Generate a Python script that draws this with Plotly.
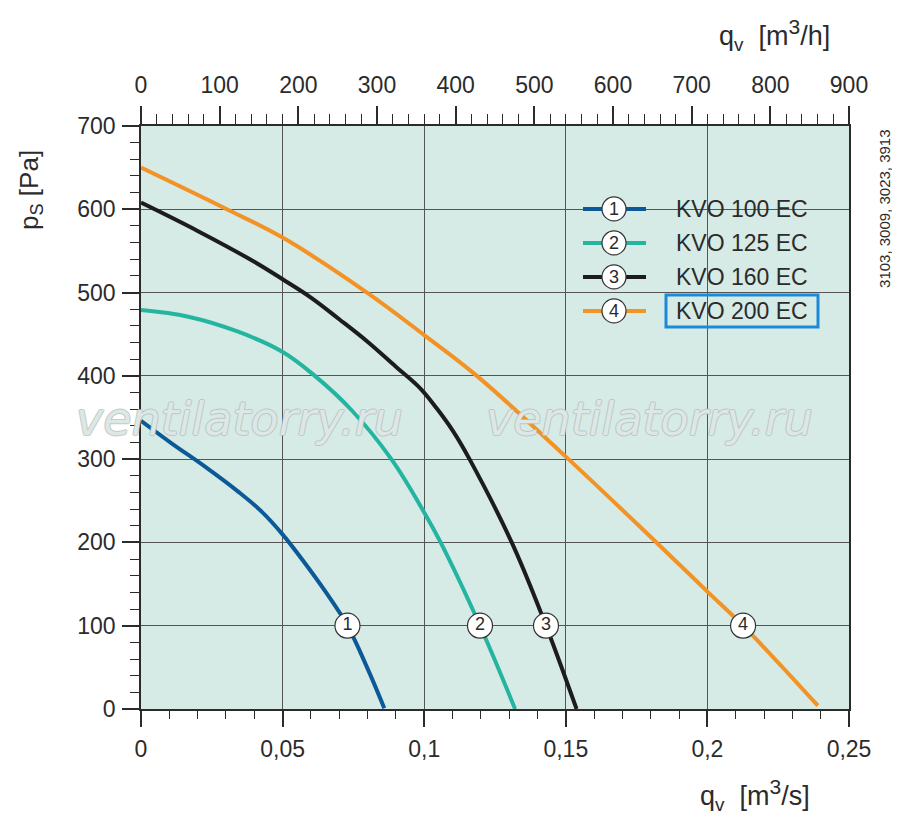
import plotly.graph_objects as go

# --- data ---
q_kvo100 = [0, 0.0108, 0.0226, 0.0343, 0.0426, 0.0499, 0.0579, 0.0649, 0.0729, 0.0802, 0.0859]
p_kvo100 = [346, 319, 291, 261, 237, 210, 175, 142, 100, 47, 1]

q_kvo125 = [0, 0.0167, 0.0343, 0.0499, 0.0614, 0.0743, 0.0884, 0.100, 0.1058, 0.1197, 0.1321]
p_kvo125 = [479, 471, 453, 429, 400, 359, 300, 236, 200, 100, 0]

q_kvo160 = [0, 0.020, 0.040, 0.050, 0.060, 0.070, 0.080, 0.090, 0.0986, 0.1044, 0.1103, 0.116, 0.1309, 0.1430, 0.1538]
p_kvo160 = [608, 574, 537, 516, 494, 468, 441, 411, 385, 361, 333, 300, 200, 100, 0]

q_kvo200 = [0, 0.0303, 0.050, 0.0798, 0.100, 0.1186, 0.150, 0.182, 0.200, 0.2126, 0.239]
p_kvo200 = [650, 600, 566, 500, 449, 400, 303, 200, 141, 100, 4]

curve_q = [q_kvo100, q_kvo125, q_kvo160, q_kvo200]
curve_p = [p_kvo100, p_kvo125, p_kvo160, p_kvo200]
names = ["KVO 100 EC", "KVO 125 EC", "KVO 160 EC", "KVO 200 EC"]
numbers = ["1", "2", "3", "4"]
colors = ["#0b5a97", "#24b5a0", "#1c1c1c", "#f39325"]

# numbered circles sitting on the curves
label_q = [0.0729, 0.1197, 0.1430, 0.2126]
label_p = [100, 100, 100, 100]

x_ticks = [0, 0.05, 0.1, 0.15, 0.2, 0.25]
x_ticktext = ["0", "0,05", "0,1", "0,15", "0,2", "0,25"]
y_ticks = [0, 100, 200, 300, 400, 500, 600, 700]
x2_ticks = [0, 100, 200, 300, 400, 500, 600, 700, 800, 900]

# --- page geometry (the page puts the figure 8px in from the corner) ---
OFF = 8
W, H = 900 - OFF, 828 - OFF
L, R, T, B = 141, 849, 126, 709.3          # plot box in screen pixels
ML, MT = L - OFF, T - OFF
MR, MB = W - (R - OFF), H - (B - OFF)
PW, PH = R - L, B - T

BG = "#d6eae6"
GRID = "#555555"
AXIS = "#2b2b2b"
TXT = "#2b2b2b"
FONT = "Liberation Sans, Arial, sans-serif"


def px(xp):
    return (xp - L) / PW


def py(yp):
    return (B - yp) / PH


def note(x, y, text, size, **kw):
    d = dict(x=px(x), y=py(y), xref="paper", yref="paper", text=text, showarrow=False,
             xanchor="center", yanchor="middle",
             font=dict(family=FONT, size=size, color=TXT))
    d.update(kw)
    return d


fig = go.Figure()

for q, p, c, n in zip(curve_q, curve_p, colors, names):
    fig.add_trace(go.Scatter(x=q, y=p, mode="lines", name=n,
                             line=dict(color=c, width=4, shape="spline", smoothing=1.1),
                             hoverinfo="skip"))

fig.add_trace(go.Scatter(x=label_q, y=label_p, mode="markers+text", text=numbers,
                         textposition="middle center",
                         textfont=dict(family=FONT, size=18, color=TXT),
                         marker=dict(size=25, color="white", line=dict(color="#333333", width=1.2)),
                         hoverinfo="skip"))

# keeps the top m3/h axis alive
fig.add_trace(go.Scatter(x=x2_ticks, y=[None] * len(x2_ticks), xaxis="x2",
                         mode="markers", hoverinfo="skip", showlegend=False))

shapes = []
annotations = []

# legend box (hides the grid behind it)
shapes.append(dict(type="rect", xref="paper", yref="paper", layer="between",
                   x0=px(563), x1=px(837), y0=py(340), y1=py(182),
                   fillcolor=BG, line=dict(width=0)))
row_y = [209, 243, 277, 311]
for i, (n, c, num) in enumerate(zip(names, colors, numbers)):
    yy = py(row_y[i])
    shapes.append(dict(type="line", xref="paper", yref="paper",
                       x0=px(583), x1=px(646), y0=yy, y1=yy,
                       line=dict(color=c, width=4)))
    shapes.append(dict(type="circle", xref="paper", yref="paper",
                       xsizemode="pixel", ysizemode="pixel",
                       xanchor=px(614), yanchor=yy, x0=-12, x1=12, y0=-12, y1=12,
                       fillcolor="white", line=dict(color="#333333", width=1.2)))
    annotations.append(note(614, row_y[i], num, 18))
    annotations.append(note(674, row_y[i], n, 23, xanchor="left"))
# highlight frame around the last entry
shapes.append(dict(type="rect", xref="paper", yref="paper",
                   x0=px(666), x1=px(818), y0=py(327), y1=py(295),
                   line=dict(color="#1d8ad8", width=3)))

# watermark
for cx in [239, 649]:
    annotations.append(note(cx, 419, "ventilatorry.ru", 46,
                            font=dict(family="DejaVu Sans", size=46, style="italic",
                                      color="rgba(236,245,243,0.75)",
                                      shadow="1px 0 #b2bebc, -1px 0 #b2bebc, 0 1px #b2bebc, 0 -1px #b2bebc")))

# axis titles
sup3 = "<sup><span style='font-size:21px'>3</span></sup>"
annotations.append(note(31, 190, "p<sub>S</sub> [Pa]", 26, textangle=-90))
annotations.append(note(755, 795, "q<sub>v</sub>  [m" + sup3 + "/s]", 27))
annotations.append(note(774, 35, "q<sub>v</sub>  [m" + sup3 + "/h]", 27))
annotations.append(note(885, 209, "3103, 3009, 3023, 3913", 15, textangle=-90))

tickfont = dict(family=FONT, size=23, color=TXT)

fig.update_layout(
    width=W, height=H,
    margin=dict(l=ML, r=MR, t=MT, b=MB),
    paper_bgcolor="white",
    plot_bgcolor=BG,
    showlegend=False,
    shapes=shapes,
    annotations=annotations,
    xaxis=dict(range=[0, 0.25], tickmode="array", tickvals=x_ticks, ticktext=x_ticktext,
               showgrid=True, gridcolor=GRID, gridwidth=1, zeroline=False,
               showline=True, linecolor=AXIS, linewidth=1.5,
               ticks="outside", ticklen=16, tickcolor=AXIS, tickwidth=1.5,
               tickfont=tickfont, ticklabelstandoff=3,
               minor=dict(dtick=0.01, tick0=0, ticks="outside", ticklen=8,
                          tickcolor=AXIS, tickwidth=1.2, showgrid=False)),
    xaxis2=dict(range=[0, 900], overlaying="x", side="top", anchor="y",
                tickmode="array", tickvals=x2_ticks,
                showgrid=False, zeroline=False,
                showline=True, linecolor=AXIS, linewidth=1.5,
                ticks="outside", ticklen=18, tickcolor=AXIS, tickwidth=1.5,
                tickfont=tickfont, ticklabelstandoff=4,
                minor=dict(dtick=20, tick0=0, ticks="outside", ticklen=10,
                           tickcolor=AXIS, tickwidth=1.2, showgrid=False)),
    yaxis=dict(range=[0, 700], tickmode="array", tickvals=y_ticks,
               showgrid=True, gridcolor=GRID, gridwidth=1, zeroline=False,
               showline=True, mirror=True, linecolor=AXIS, linewidth=1.5,
               ticks="outside", ticklen=17, tickcolor=AXIS, tickwidth=1.5,
               tickfont=tickfont, ticklabelstandoff=2,
               minor=dict(dtick=20, tick0=0, ticks="outside", ticklen=9,
                          tickcolor=AXIS, tickwidth=1.2, showgrid=False)),
)

fig.write_html("out.html")
